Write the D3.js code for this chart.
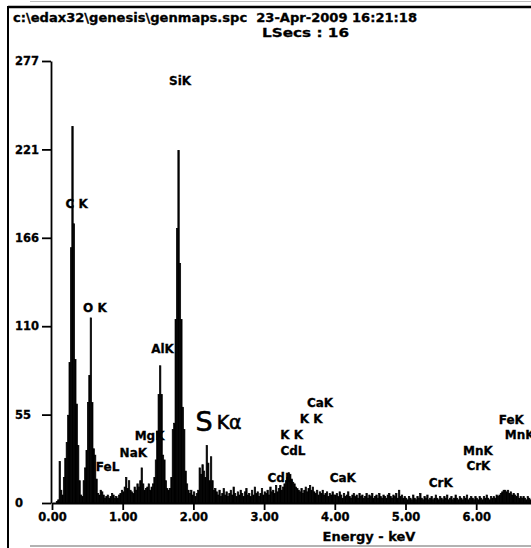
<!DOCTYPE html>
<html>
<head>
<meta charset="utf-8">
<script src="https://cdn.jsdelivr.net/npm/d3@7"></script>
<style>
body { margin: 0; background: #fff; overflow: hidden; }
text { font-family: 'DejaVu Sans', sans-serif; font-weight: bold; fill: #000; stroke: #000; stroke-width: 0.3px; white-space: pre; }
</style>
</head>
<body>
<div id="viz"></div>
<script>
// header of the spectrum file
var fileLine = 'c:\\edax32\\genesis\\genmaps.spc  23-Apr-2009 16:21:18';
var liveLine = 'LSecs : 16';

// counts per channel, channels are 0.02 keV wide, first one at 0.00 keV
var chWidth = 0.02;
var counts = [
    0, 0, 0, 1, 2, 26, 8, 5, 16, 28,          // 0.00
    38, 55, 88, 160, 236, 175, 90, 62, 36, 14,
    5, 4, 14, 22, 33, 63, 80, 116, 63, 34,    // 0.40
    30, 15, 6, 5, 8, 7, 5, 3, 4, 5,
    3, 4, 6, 5, 3, 4, 3, 5, 6, 8,             // 0.80
    7, 10, 16, 9, 14, 8, 7, 6, 10, 8,
    12, 10, 14, 22, 12, 8, 9, 10, 12, 8,      // 1.20
    10, 12, 16, 27, 45, 68, 86, 68, 30, 27,
    14, 9, 8, 9, 16, 46, 50, 115, 172, 221,   // 1.60
    150, 115, 60, 46, 20, 12, 8, 6, 8, 5,
    7, 4, 6, 8, 22, 18, 24, 20, 16, 36,       // 2.00
    25, 14, 29, 14, 8, 9, 7, 5, 8, 4,
    6, 9, 5, 7, 4, 6, 8, 5, 10, 6,            // 2.40
    4, 7, 5, 8, 6, 4, 7, 9, 5, 6,
    4, 8, 5, 10, 6, 7, 4, 6, 9, 5,            // 2.80
    7, 6, 8, 5, 10, 7, 8, 6, 11, 7,
    9, 11, 8, 10, 12, 14, 16, 19, 18, 15,     // 3.20
    13, 12, 10, 9, 8, 7, 9, 6, 8, 10,
    7, 9, 11, 8, 10, 7, 6, 8, 5, 7,           // 3.60
    6, 8, 5, 6, 7, 4, 6, 5, 7, 5,
    5, 6, 4, 7, 5, 3, 6, 4, 5, 7,             // 4.00
    4, 3, 5, 6, 4, 5, 3, 6, 4, 5,
    3, 4, 6, 3, 5, 4, 6, 3, 4, 5,             // 4.40
    3, 6, 4, 3, 5, 4, 3, 5, 6, 4,
    3, 5, 4, 6, 3, 8, 4, 5, 3, 4,             // 4.80
    3, 2, 4, 3, 2, 5, 3, 2, 4, 3,
    6, 3, 2, 4, 3, 5, 2, 3, 4, 2,             // 5.20
    3, 5, 3, 2, 4, 3, 2, 4, 3, 5,
    2, 3, 4, 2, 3, 5, 3, 2, 4, 3,             // 5.60
    2, 4, 3, 5, 2, 3, 4, 3, 2, 4,
    3, 2, 4, 3, 2, 4, 3, 5, 3, 2,             // 6.00
    4, 3, 4, 3, 5, 4, 5, 6, 7, 8,
    8, 7, 8, 6, 7, 5, 6, 5, 4, 6,             // 6.40
    3, 4, 3, 4, 3, 2, 4, 3, 2, 3
];

var yTicks = [0, 55.4, 110.8, 166.2, 221.6, 277];
var yTickLabels = ['0', '55', '110', '166', '221', '277'];
// the print is cut right after 6.7 keV, so only these ticks show
var xTicks = [0, 1, 2, 3, 4, 5, 6];
var xTickLabels = ['0.00', '1.00', '2.00', '3.00', '4.00', '5.00', '6.00'];
var xTitle = 'Energy - keV';

// element markers: name, line energy (keV), label level (counts)
var lineNames = ['SiK', 'C K', 'O K', 'AlK', 'MgK', 'NaK', 'FeL', 'CaK', 'K K', 'K K', 'CdL', 'CdL', 'CaK', 'CrK', 'CrK', 'MnK', 'FeK', 'MnK'];
var lineEnergy = [1.740, 0.277, 0.525, 1.487, 1.254, 1.041, 0.705, 3.690, 3.589, 3.313, 3.316, 3.133, 4.012, 5.414, 5.946, 5.898, 6.403, 6.490];
var lineLevel = [262, 185, 120, 94, 39.5, 29, 20, 60, 50, 40, 30, 13, 13, 10, 20.7, 30, 49.5, 40];

// hand written note on the print
var note = {lead: 'S', tail: 'Kα', energy: 2.03, level: 45};

var W = 531, H = 548;

var svg = d3.select('#viz')
    .append('svg')
    .attr('width', W)
    .attr('height', H);

var x = d3.scaleLinear().domain([0, 10]).range([52, 759]);
var y = d3.scaleLinear().domain([0, 277]).range([503, 61]);

// frame of the printout
svg.append('line')
    .attr('x1', 8).attr('x2', W).attr('y1', 7).attr('y2', 7)
    .attr('stroke', '#000').attr('stroke-width', 2.5);
svg.append('line')
    .attr('x1', 8).attr('x2', 8).attr('y1', 6).attr('y2', H)
    .attr('stroke', '#000').attr('stroke-width', 2);
svg.append('line')
    .attr('x1', 30).attr('x2', W).attr('y1', 1.5).attr('y2', 1.5)
    .attr('stroke', '#bbb').attr('stroke-width', 1);
svg.append('line')
    .attr('x1', 30).attr('x2', W).attr('y1', 546).attr('y2', 546)
    .attr('stroke', '#999').attr('stroke-width', 1.5);

svg.append('text')
    .attr('x', 13).attr('y', 22)
    .attr('font-size', '12px')
    .attr('textLength', 404)
    .attr('lengthAdjust', 'spacingAndGlyphs')
    .text(fileLine);
svg.append('text')
    .attr('x', 262).attr('y', 37)
    .attr('font-size', '12px')
    .attr('textLength', 87)
    .attr('lengthAdjust', 'spacingAndGlyphs')
    .text(liveLine);

// element labels go under the spectrum, the peaks cover them like in the print
var labels = lineNames.map(function(n, i) {
    return {name: n, e: lineEnergy[i], c: lineLevel[i]};
});
svg.selectAll('.elabel')
    .data(labels)
    .enter()
    .append('text')
    .attr('class', 'elabel')
    .attr('x', function(d) { return x(d.e) - 6; })
    .attr('y', function(d) { return y(d.c); })
    .attr('font-size', '12px')
    .text(function(d) { return d.name; });

var noteText = svg.append('text')
    .attr('x', x(note.energy))
    .attr('y', y(note.level))
    .style('font-weight', 'normal')
    .style('stroke-width', '0.6px');
noteText.append('tspan').attr('font-size', '27px').text(note.lead);
noteText.append('tspan').attr('dx', 4).attr('font-size', '19px').attr('dy', -2).text(note.tail);

// spectrum
var chans = counts.map(function(c, i) { return {e: i * chWidth, c: c}; });
svg.append('g')
    .selectAll('rect')
    .data(chans)
    .enter()
    .append('rect')
    .attr('x', function(d) { return x(d.e); })
    .attr('width', function(d) { return x(d.e + chWidth) - x(d.e); })
    .attr('y', function(d) { return y(d.c); })
    .attr('height', function(d) { return y(0) - y(d.c); })
    .attr('fill', '#000')
    .attr('stroke', '#000')
    .attr('stroke-width', 0.7);

// axes
var yAxis = d3.axisLeft(y)
    .tickValues(yTicks)
    .tickFormat(function(d, i) { return yTickLabels[i]; })
    .tickSize(9)
    .tickSizeOuter(0);

var gy = svg.append('g')
    .attr('transform', 'translate(51,0)')
    .call(yAxis);
gy.selectAll('path, line').attr('stroke', '#000').attr('stroke-width', 1.8);
gy.selectAll('text')
    .attr('x', -36)
    .attr('text-anchor', 'start')
    .attr('font-size', '11.5px')
    .style('font-family', "'DejaVu Sans', sans-serif")
    .style('font-weight', 'bold');

var xAxis = d3.axisBottom(x)
    .tickValues(xTicks)
    .tickFormat(function(d, i) { return xTickLabels[i]; })
    .tickSize(7)
    .tickSizeOuter(0);

var gx = svg.append('g')
    .attr('transform', 'translate(0,503)')
    .call(xAxis);
gx.selectAll('path, line').attr('stroke', '#000').attr('stroke-width', 1.8);
gx.selectAll('text')
    .attr('y', 10)
    .attr('font-size', '11.5px')
    .style('font-family', "'DejaVu Sans', sans-serif")
    .style('font-weight', 'bold');

svg.append('text')
    .attr('x', 369)
    .attr('y', 541)
    .attr('text-anchor', 'middle')
    .attr('font-size', '13px')
    .text(xTitle);
</script>
</body>
</html>
